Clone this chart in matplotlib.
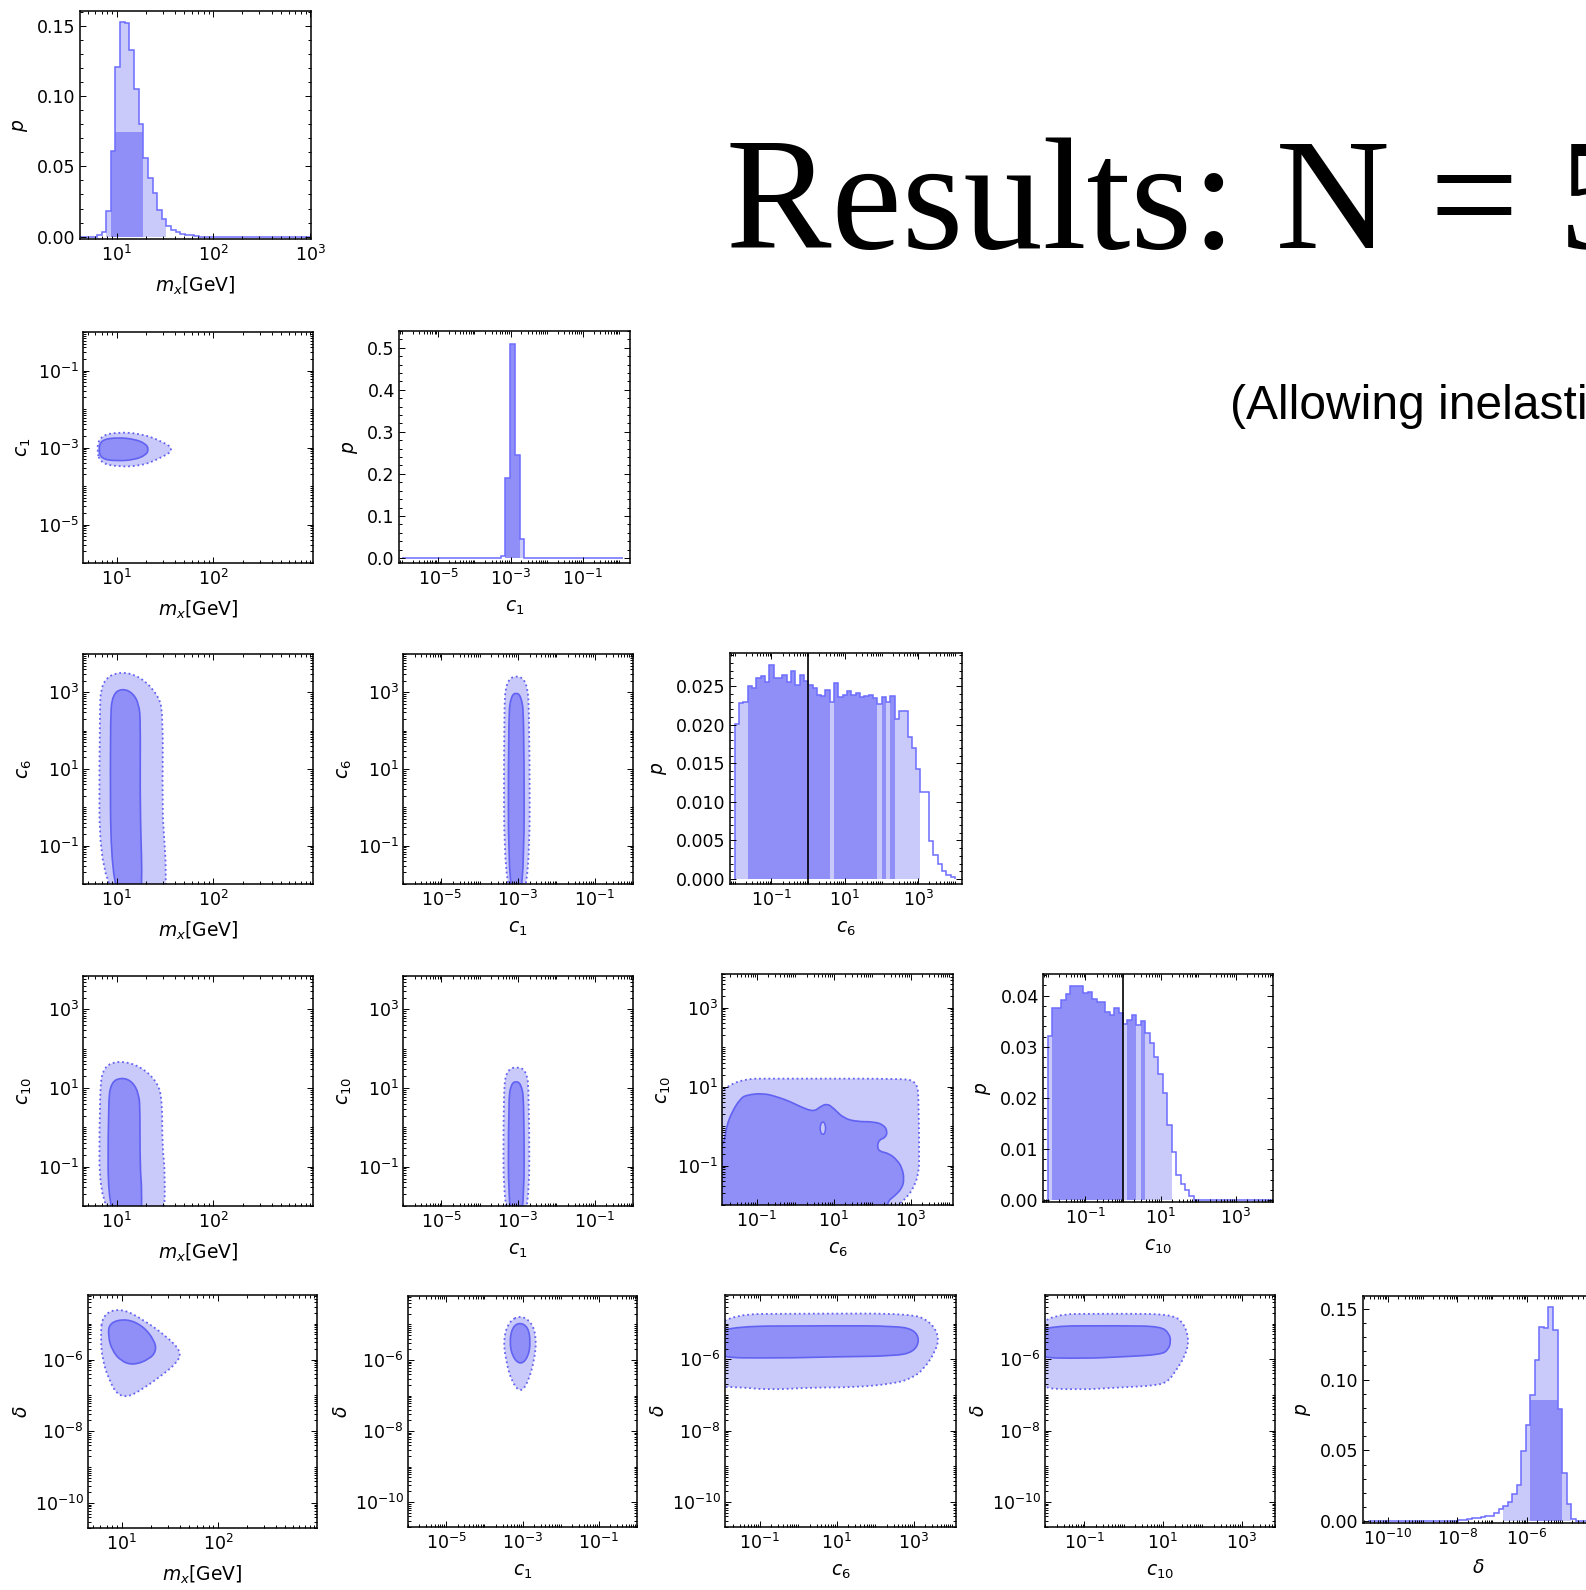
import numpy as np
import matplotlib
matplotlib.use('Agg')
import matplotlib.pyplot as plt
from matplotlib.path import Path
from matplotlib.patches import PathPatch
from matplotlib.ticker import LogLocator, AutoMinorLocator, NullFormatter

plt.rcParams['font.family'] = 'DejaVu Sans'
plt.rcParams['mathtext.fontset'] = 'dejavusans'

W, H = 1586, 1590

LIGHT = '#c9c9fa'
DARK = '#8f8ff7'
EDGE = '#6262f2'
STEP = '#6c6cff'

# parameters in corner order
names = ['mx', 'c1', 'c6', 'c10', 'delta']
axlabels = {'mx': r'$m_x$[GeV]', 'c1': r'$c_1$', 'c6': r'$c_6$',
            'c10': r'$c_{10}$', 'delta': r'$\delta$'}
decades = {'mx': [1, 2], 'c1': [-5, -3, -1], 'c6': [-1, 1, 3],
           'c10': [-1, 1, 3], 'delta': [-6, -8, -10]}

# log10 ranges of the 2d panels
xrange2d = {'mx': (0.65, 3.03), 'c1': (-6.0, 0.0), 'c6': (-1.9, 4.1), 'c10': (-2.0, 3.85)}
yrange2d = {'c1': (-6.0, 0.0), 'c6': (-2.0, 4.0), 'c10': (-2.0, 3.85), 'delta': (-10.7, -4.2)}

# ---- marginal posteriors (log10 bin start, log10 bin width, bin values) ----
mx_start, mx_width = 0.604, 0.0479
mx_p = [0, 0, 0, 0, 0.001, 0.003, 0.018, 0.061, 0.121, 0.153, 0.152, 0.133,
        0.105, 0.080, 0.056, 0.042, 0.031, 0.019, 0.0125, 0.0078, 0.0047,
        0.003, 0.002, 0.0012, 0.0008, 0.0005] + [0] * 25

c1_start, c1_width = -6.0, 0.13
c1_p = [0] * 21 + [0.005, 0.19, 0.51, 0.245, 0.045] + [0] * 21

c6_start, c6_width = -2.0, 6 / 51
c6_p = [0.0201, 0.0228, 0.0229, 0.0250, 0.0248, 0.0260, 0.0263, 0.0255, 0.0278,
        0.0260, 0.0261, 0.0265, 0.0255, 0.0270, 0.0252, 0.0265, 0.0257, 0.0252,
        0.0247, 0.0239, 0.0237, 0.0245, 0.0230, 0.0254, 0.0236, 0.0238, 0.0244,
        0.0239, 0.0241, 0.0236, 0.0237, 0.0238, 0.0235, 0.0227, 0.0236, 0.0230,
        0.0237, 0.0208, 0.0218, 0.0218, 0.0184, 0.0170, 0.0143, 0.0113, 0.0113,
        0.0049, 0.0031, 0.0020, 0.0011, 0.0005, 0.0002]

c10_start, c10_width = -2.0, 6 / 51
c10_p = [0.0321, 0.0375, 0.0375, 0.0392, 0.0402, 0.0418, 0.0418, 0.0418, 0.0404,
         0.0407, 0.0394, 0.0388, 0.0388, 0.0368, 0.0362, 0.0375, 0.0365, 0.0344,
         0.0353, 0.0362, 0.0342, 0.0350, 0.0326, 0.0308, 0.0280, 0.0247, 0.0209,
         0.0147, 0.0095, 0.0050, 0.0032, 0.0021, 0.0008] + [0] * 18

delta_start, delta_width = -10.58, 0.13
delta_p = [0] * 20 + [0.0012, 0.0012, 0.0015, 0.002, 0.0026, 0.003, 0.0035, 0.004,
                      0.0058, 0.0086, 0.0105, 0.0133, 0.019, 0.0255, 0.0495, 0.068,
                      0.089, 0.114, 0.137, 0.136, 0.151, 0.135, 0.079, 0.034, 0.012,
                      0.0016] + [0] * 4

# credible-region levels (95%, 68%) and top of the 68% shading
hist_levels = {'mx': (0.010, 0.058, 0.0744), 'c1': (0.03, 0.1, None),
               'c6': (0.0125, 0.0233, None), 'c10': (0.012, 0.0347, None),
               'delta': (0.010, 0.073, 0.0857)}
hist_data = {'mx': (mx_start, mx_width, mx_p), 'c1': (c1_start, c1_width, c1_p),
             'c6': (c6_start, c6_width, c6_p), 'c10': (c10_start, c10_width, c10_p),
             'delta': (delta_start, delta_width, delta_p)}
hist_xrange = {'mx': (0.62, 3.01), 'c1': (-6.08, 0.3), 'c6': (-2.13, 4.19),
               'c10': (-2.13, 3.99), 'delta': (-10.72, -4.07)}
hist_yrange = {'mx': (-0.0017, 0.1606), 'c1': (-0.012, 0.54), 'c6': (-0.00065, 0.0293),
               'c10': (-0.0003, 0.0442), 'delta': (-0.0012, 0.1589)}
hist_yticks = {'mx': ([0, 0.05, 0.10, 0.15], '%.2f'),
               'c1': ([0, 0.1, 0.2, 0.3, 0.4, 0.5], '%.1f'),
               'c6': ([0, 0.005, 0.010, 0.015, 0.020, 0.025], '%.3f'),
               'c10': ([0, 0.01, 0.02, 0.03, 0.04], '%.2f'),
               'delta': ([0, 0.05, 0.10, 0.15], '%.2f')}
true_value = {'c6': 1.0, 'c10': 1.0}

# ---- 2d credible regions, (log10 x, log10 y) outline points: 95% then 68% ----
mx_c1_95 = [(0.79, -3.05), (0.83, -2.7), (1.0, -2.6), (1.25, -2.64), (1.45, -2.82),
            (1.6, -3.05), (1.45, -3.28), (1.25, -3.48), (1.0, -3.5), (0.83, -3.4)]
mx_c1_68 = [(0.81, -3.05), (0.84, -2.8), (1.0, -2.74), (1.18, -2.78), (1.3, -2.9),
            (1.33, -3.05), (1.3, -3.2), (1.18, -3.32), (1.0, -3.35), (0.84, -3.3)]

mx_c6_95 = [(0.82, -2.5), (0.82, 2.4), (0.84, 3.3), (1.03, 3.56), (1.25, 3.4),
            (1.42, 2.95), (1.48, 2.5), (1.47, 0.0), (1.49, -0.8), (1.51, -1.6), (1.5, -2.5)]
mx_c6_68 = [(0.94, -2.5), (0.93, 2.4), (0.96, 2.95), (1.05, 3.1), (1.16, 3.0),
            (1.23, 2.7), (1.245, 2.2), (1.24, 0.5), (1.25, -0.9), (1.26, -1.6), (1.25, -2.5)]

c1_c6_95 = [(-3.36, -2.5), (-3.37, 2.6), (-3.3, 3.3), (-3.04, 3.45), (-2.78, 3.3),
            (-2.7, 2.6), (-2.69, -2.5)]
c1_c6_68 = [(-3.25, -2.5), (-3.25, 2.4), (-3.18, 2.9), (-3.05, 3.0), (-2.92, 2.9),
            (-2.84, 2.4), (-2.84, -2.5)]

mx_c10_95 = [(0.82, -2.5), (0.82, 0.9), (0.86, 1.55), (1.03, 1.7), (1.25, 1.55),
             (1.42, 1.15), (1.47, 0.7), (1.47, -0.5), (1.5, -1.1), (1.49, -2.5)]
mx_c10_68 = [(0.91, -2.5), (0.91, 0.6), (0.94, 1.15), (1.05, 1.27), (1.16, 1.17),
             (1.23, 0.85), (1.24, 0.4), (1.24, -1.0), (1.26, -1.6), (1.25, -2.5)]

c1_c10_95 = [(-3.38, -2.5), (-3.38, 0.9), (-3.3, 1.45), (-3.04, 1.55), (-2.78, 1.45),
             (-2.71, 0.9), (-2.7, -2.5)]
c1_c10_68 = [(-3.25, -2.5), (-3.25, 0.7), (-3.18, 1.1), (-3.05, 1.18), (-2.92, 1.1),
             (-2.84, 0.7), (-2.84, -2.5)]

c6_c10_95 = [(-2.4, -2.5), (-2.4, 1.2), (0.5, 1.2), (2.7, 1.2), (3.15, 1.15),
             (3.22, 0.7), (3.22, -2.5)]
c6_c10_68 = [(-2.4, -2.5), (-2.4, -0.5), (-1.9, -0.5), (-1.83, -0.35), (-1.78, 0.0),
             (-1.64, 0.36), (-1.42, 0.70), (-1.25, 0.79), (-0.82, 0.83), (-0.47, 0.74),
             (-0.125, 0.617), (0.135, 0.49), (0.48, 0.36), (0.65, 0.49), (0.83, 0.57),
             (1.0, 0.45), (1.26, 0.195), (1.61, 0.11), (2.04, 0.11), (2.3, 0.03),
             (2.4, -0.14), (2.34, -0.30), (2.17, -0.35), (2.13, -0.55), (2.21, -0.65),
             (2.43, -0.69), (2.65, -0.86), (2.78, -1.07), (2.83, -1.33), (2.78, -1.58),
             (2.56, -1.79), (2.39, -1.92), (2.3, -2.5)]
c6_c10_hole = [(0.72, 0.13), (0.79, 0.03), (0.79, -0.15), (0.72, -0.23),
               (0.65, -0.15), (0.65, 0.03)]

mx_delta_95 = [(0.80, -4.74), (0.99, -4.56), (1.22, -4.88), (1.47, -5.36), (1.62, -5.78),
               (1.58, -6.08), (1.40, -6.48), (1.19, -6.87), (1.06, -7.05), (0.95, -6.97),
               (0.87, -6.57), (0.80, -6.02), (0.78, -5.36)]
mx_delta_68 = [(0.87, -4.97), (1.05, -4.86), (1.22, -5.06), (1.34, -5.46), (1.36, -5.76),
               (1.29, -5.99), (1.12, -6.16), (0.99, -6.04), (0.90, -5.74), (0.86, -5.36)]

c1_delta_95 = [(-3.07, -4.74), (-2.76, -4.93), (-2.63, -5.4), (-2.69, -6.0), (-2.85, -6.62),
               (-3.05, -6.92), (-3.28, -6.62), (-3.44, -6.0), (-3.5, -5.4), (-3.36, -4.93)]
c1_delta_68 = [(-3.07, -4.94), (-2.85, -5.08), (-2.79, -5.5), (-2.85, -5.92), (-3.05, -6.14),
               (-3.26, -5.92), (-3.34, -5.5), (-3.27, -5.08)]

c6_delta_95 = [(-2.4, -4.74), (0.5, -4.72), (2.93, -4.72), (3.42, -4.93), (3.66, -5.35),
               (3.58, -5.76), (3.25, -6.3), (2.93, -6.54), (2.51, -6.68), (1.45, -6.79),
               (0.38, -6.79), (-0.78, -6.86), (-1.5, -6.78), (-2.4, -6.77)]
c6_delta_68 = [(-2.4, -5.08), (1.0, -5.06), (2.5, -5.07), (3.0, -5.16), (3.16, -5.46),
               (3.0, -5.8), (2.5, -5.91), (1.0, -5.93), (-0.5, -5.97), (-2.4, -5.95)]

c10_delta_95 = [(-2.4, -4.74), (0.0, -4.72), (1.2, -4.74), (1.52, -4.96), (1.67, -5.46),
                (1.56, -5.92), (1.34, -6.3), (1.13, -6.63), (0.82, -6.74), (-0.11, -6.79),
                (-1.15, -6.86), (-2.4, -6.79)]
c10_delta_68 = [(-2.4, -5.07), (0.0, -5.06), (0.95, -5.08), (1.16, -5.28), (1.2, -5.5),
                (1.14, -5.73), (0.95, -5.87), (0.0, -5.93), (-1.0, -5.98), (-2.4, -5.95)]

regions = {('mx', 'c1'): (mx_c1_95, mx_c1_68),
           ('mx', 'c6'): (mx_c6_95, mx_c6_68),
           ('c1', 'c6'): (c1_c6_95, c1_c6_68),
           ('mx', 'c10'): (mx_c10_95, mx_c10_68),
           ('c1', 'c10'): (c1_c10_95, c1_c10_68),
           ('c6', 'c10'): (c6_c10_95, c6_c10_68),
           ('mx', 'delta'): (mx_delta_95, mx_delta_68),
           ('c1', 'delta'): (c1_delta_95, c1_delta_68),
           ('c6', 'delta'): (c6_delta_95, c6_delta_68),
           ('c10', 'delta'): (c10_delta_95, c10_delta_68)}

# panel frames in pixels: left, top, right, bottom
boxes = {(0, 0): (80, 11, 311, 239),
         (1, 0): (83, 332, 313, 563), (1, 1): (399, 331, 630, 563),
         (2, 0): (83, 654, 313, 884), (2, 1): (403, 654, 633, 884), (2, 2): (730, 653, 962, 884),
         (3, 0): (83, 976, 313, 1206), (3, 1): (403, 976, 633, 1206),
         (3, 2): (722, 974, 953, 1205), (3, 3): (1043, 974, 1273, 1202),
         (4, 0): (88, 1295, 317, 1528), (4, 1): (408, 1296, 637, 1527),
         (4, 2): (725, 1295, 956, 1527), (4, 3): (1045, 1295, 1275, 1527),
         (4, 4): (1363, 1296, 1594, 1523)}


def smooth_patch(pts, **kw):
    # closed quadratic spline through the outline points (log10 coords)
    p = np.asarray(pts, float)
    mids = (p + np.roll(p, -1, axis=0)) / 2
    verts = [mids[-1]]
    codes = [Path.MOVETO]
    for i in range(len(p)):
        verts += [p[i], mids[i]]
        codes += [Path.CURVE3, Path.CURVE3]
    return PathPatch(Path(10.0 ** np.array(verts), codes), **kw)


def frame(ax):
    for s in ax.spines.values():
        s.set_linewidth(1.1)
    ax.tick_params(which='both', direction='in', top=True, right=True,
                   labelsize=12.5, width=0.7)
    ax.tick_params(which='major', length=4.5)
    ax.tick_params(which='minor', length=2.2)
    ax.tick_params(axis='x', pad=4)
    ax.tick_params(axis='y', pad=3)


def log_axis(ax, which, lo, hi, exps):
    axis = ax.xaxis if which == 'x' else ax.yaxis
    if which == 'x':
        ax.set_xscale('log')
        ax.set_xlim(10.0 ** lo, 10.0 ** hi)
    else:
        ax.set_yscale('log')
        ax.set_ylim(10.0 ** lo, 10.0 ** hi)
    axis.set_ticks([10.0 ** e for e in exps], [rf'$10^{{{e}}}$' for e in exps])
    axis.set_minor_locator(LogLocator(10, subs=np.arange(1, 10), numticks=200))
    axis.set_minor_formatter(NullFormatter())


fig = plt.figure(figsize=(W / 100, H / 100), dpi=100)

for (r, c), (l, t, rr, b) in boxes.items():
    ax = fig.add_axes([l / W, 1 - b / H, (rr - l) / W, (b - t) / H])
    frame(ax)
    xn = names[c]
    if r == c:
        start, width, vals = hist_data[xn]
        vals = np.asarray(vals, float)
        edges = 10.0 ** (start + width * np.arange(len(vals) + 1))
        lvl95, lvl68, cap = hist_levels[xn]
        top68 = vals if cap is None else np.minimum(vals, cap)
        ax.stairs(np.where(vals >= lvl95, vals, 0), edges, fill=True, color=LIGHT, lw=0)
        ax.stairs(np.where(vals >= lvl68, top68, 0), edges, fill=True, color=DARK, lw=0)
        ax.stairs(vals, edges, color=STEP, lw=1.1)
        if xn in true_value:
            ax.axvline(true_value[xn], color='black', lw=1.2)
        exps = decades[xn] + ([3] if xn == 'mx' else [])
        log_axis(ax, 'x', *hist_xrange[xn], exps)
        ticks, fmt = hist_yticks[xn]
        ax.set_yticks(ticks, [fmt % v for v in ticks])
        ax.yaxis.set_minor_locator(AutoMinorLocator(5))
        ax.set_ylim(*hist_yrange[xn])
        ax.set_ylabel(r'$p$', fontsize=13.5, labelpad=5)
    else:
        yn = names[r]
        light, dark = regions[(xn, yn)]
        ax.add_patch(smooth_patch(light, fc=LIGHT, ec=EDGE, lw=1.3,
                                  ls=(0, (1, 1.6))))
        ax.add_patch(smooth_patch(dark, fc=DARK, ec=EDGE, lw=1.2))
        if (xn, yn) == ('c6', 'c10'):
            ax.add_patch(smooth_patch(c6_c10_hole, fc=LIGHT, ec=EDGE, lw=1.1))
        log_axis(ax, 'x', *xrange2d[xn], decades[xn])
        log_axis(ax, 'y', *yrange2d[yn], decades[yn])
        ax.set_ylabel(axlabels[yn], fontsize=13.5, labelpad=3)
    ax.set_xlabel(axlabels[xn], fontsize=13.5, labelpad=7)

fig.text(726 / W, 1 - 248 / H, 'Results: N = 5', family='Liberation Serif',
         fontsize=114, va='baseline', ha='left')
fig.text(1230 / W, 1 - 419 / H, '(Allowing inelastic scattering)',
         family='Liberation Sans', fontsize=34.5, va='baseline', ha='left')

fig.savefig('out.png', dpi=100, facecolor='white')
